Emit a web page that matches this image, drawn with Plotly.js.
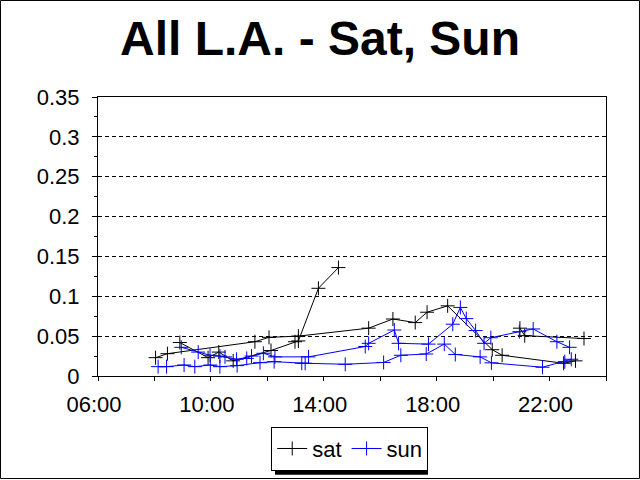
<!DOCTYPE html>
<html>
<head>
<meta charset="utf-8">
<script src="https://cdn.plot.ly/plotly-3.0.1.min.js"></script>
<style>
  body { margin: 0; background: #fff; }
  #chart { width: 640px; height: 480px; }
</style>
</head>
<body>
<div id="chart"></div>
<script>
// Saturday readings, hour of day (null = break between runs)
const satHours = [8.04, 8.46, 11.56, 12.06, 13.1, 15.59, 16.45, 17.24, 17.66, 18.39, 19.97, 20.32, 22.5, 22.92,
  null,
  8.9, 9.9, 10.28, 10.79, 12.13, 12.98, 13.1, 13.81, 14.52,
  null,
  20.95, 21.12, 23.22];
const satValues = [0.023, 0.028, 0.043, 0.0485, 0.05, 0.06, 0.0715, 0.067, 0.08, 0.088, 0.033, 0.026, 0.016, 0.019,
  null,
  0.042, 0.023, 0.03, 0.019, 0.032, 0.043, 0.044, 0.11, 0.136,
  null,
  0.06, 0.0506, 0.047];

// Sunday readings
const sunHours = [8.95, 9.55, 9.97, 10.32, 10.5, 10.91, 11.27, 11.44, 11.86, 12.27, 13.46, 15.47, 15.59, 16.5, 16.65,
  17.71, 18.57, 18.84, 19.05, 19.38, 19.68, 19.92, 20.93, 21.42, 22.26, 22.71,
  null,
  8.13, 8.43, 9.05, 9.43, 9.98, 10.32, 10.93, 11.74, 12.24, 13.22, 13.34, 14.76, 16.12, 16.73, 17.63,
  18.27, 18.66, 19.54, 19.94, 21.75, 22.54, 22.77];
const sunValues = [0.036, 0.03, 0.026, 0.025, 0.024, 0.021, 0.022, 0.025, 0.0285, 0.024, 0.024, 0.037, 0.041, 0.0577, 0.041,
  0.04, 0.065, 0.086, 0.072, 0.057, 0.041, 0.048, 0.0556, 0.059, 0.043, 0.036,
  null,
  0.0117, 0.0117, 0.0138, 0.0117, 0.0138, 0.0117, 0.013, 0.0167, 0.018, 0.016, 0.016, 0.0147, 0.017, 0.026, 0.0276,
  0.04, 0.027, 0.024, 0.0165, 0.011, 0.018, 0.021];

// axis labels
const xTickVals = [6, 10, 14, 18, 22];
const xTickText = ["06:00", "10:00", "14:00", "18:00", "22:00"];

function makeTrace(name, x, y, color) {
  return {
    type: "scatter",
    mode: "lines+markers",
    name: name,
    x: x,
    y: y,
    connectgaps: false,
    line: { color: color, width: 1 },
    marker: { symbol: "cross-thin", size: 10, color: color, line: { color: color, width: 1 } }
  };
}

const data = [
  makeTrace("sat", satHours, satValues, "#000000"),
  makeTrace("sun", sunHours, sunValues, "#0000ff")
];

const font = "Liberation Sans, Arial, sans-serif";

const layout = {
  width: 640,
  height: 480,
  margin: { l: 98, r: 34, t: 97, b: 104, autoexpand: false },
  paper_bgcolor: "#ffffff",
  plot_bgcolor: "#ffffff",
  font: { family: font, color: "#000000", size: 22 },
  title: {
    text: "<b>All L.A. - Sat, Sun</b>",
    font: { family: font, size: 48, color: "#000000" },
    x: 0.5,
    xanchor: "center",
    y: 0.956,
    yanchor: "top"
  },
  showlegend: true,
  legend: {
    orientation: "h",
    x: 0.4955,
    xanchor: "center",
    y: -0.1817,
    yanchor: "top",
    bgcolor: "#ffffff",
    bordercolor: "#000000",
    borderwidth: 1,
    font: { family: font, size: 22 },
    itemwidth: 30
  },
  xaxis: {
    range: [6, 24],
    tickvals: xTickVals,
    ticktext: xTickText,
    ticks: "outside",
    ticklen: 4,
    tickcolor: "#000000",
    minor: { dtick: 2, tick0: 6, ticks: "outside", ticklen: 4, tickcolor: "#000000", showgrid: false },
    showgrid: false,
    zeroline: false,
    showline: true,
    linecolor: "#000000",
    linewidth: 1,
    mirror: true,
    tickfont: { family: font, size: 22 },
    ticklabelstandoff: 5,
    ticklabelshift: -4
  },
  yaxis: {
    range: [0, 0.35],
    dtick: 0.05,
    tick0: 0,
    ticks: "outside",
    ticklen: 5,
    tickcolor: "#000000",
    minor: { dtick: 0.025, ticks: "outside", ticklen: 3, tickcolor: "#000000", showgrid: false },
    showgrid: true,
    gridcolor: "#000000",
    gridwidth: 1,
    griddash: "4px,3px",
    zeroline: false,
    showline: true,
    linecolor: "#000000",
    linewidth: 1,
    mirror: true,
    tickfont: { family: font, size: 22 },
    ticklabelstandoff: 8
  },
  shapes: [
    {
      // outer chart border
      type: "rect", xref: "paper", yref: "paper",
      x0: -0.1919, x1: 1.0659, y0: -0.3674, y1: 1.3459,
      line: { color: "#000000", width: 1 }
    },
    {
      // legend drop shadow
      type: "rect", xref: "paper", yref: "paper",
      x0: 0.3484, x1: 0.6496, y0: -0.3538, y1: -0.1925,
      fillcolor: "#000000",
      line: { width: 0 }
    }
  ]
};

Plotly.newPlot("chart", data, layout, { displayModeBar: false, staticPlot: true });
</script>
</body>
</html>
